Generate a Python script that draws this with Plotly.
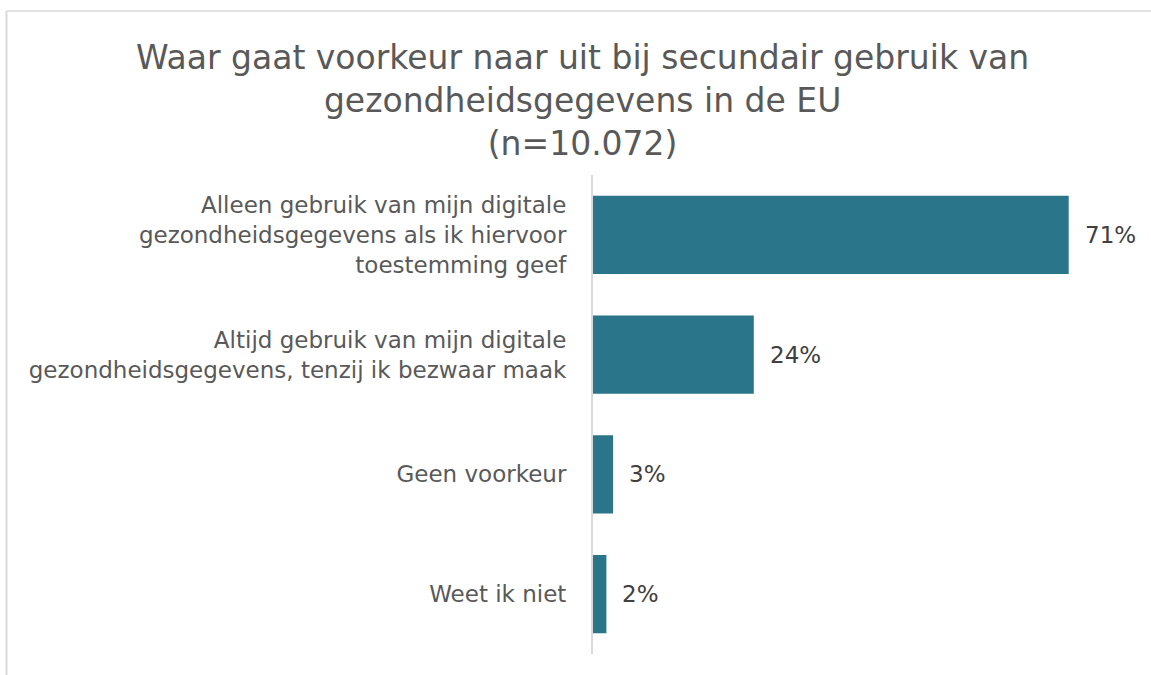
import plotly.graph_objects as go

categories = [
    "Alleen gebruik van mijn digitale<br>gezondheidsgegevens als ik hiervoor<br>toestemming geef",
    "Altijd gebruik van mijn digitale<br>gezondheidsgegevens, tenzij ik bezwaar maak",
    "Geen voorkeur",
    "Weet ik niet",
]
values = [71, 24, 3, 2]
value_labels = ["71%", "24%", "3%", "2%"]

title_text = ("Waar gaat voorkeur naar uit bij secundair gebruik van<br>"
              "gezondheidsgegevens in de EU<br>(n=10.072)")

W, H = 1151, 675
ML, MR, MT, MB = 593, 22, 175, 21
PW = W - ML - MR
PH = H - MT - MB

FONT = "DejaVu Sans"
BAR = "#2A7589"

fig = go.Figure()
fig.add_trace(go.Bar(
    x=values, y=categories, orientation="h",
    marker=dict(color=BAR, line=dict(width=0)),
    hoverinfo="skip",
))

for v, c, t in zip(values, categories, value_labels):
    fig.add_annotation(x=v, y=c, text=t, xref="x", yref="y",
                       xanchor="left", yanchor="middle", xshift=14, showarrow=False,
                       font=dict(family=FONT, size=23, color="#404040"))

fig.add_annotation(text=title_text, xref="paper", yref="paper",
                   x=(582 - ML) / PW, y=1 + (MT - 36) / PH,
                   xanchor="center", yanchor="top", showarrow=False,
                   font=dict(family=FONT, size=33, color="#595959"))

# chart border (left and top edges visible)
bx = (6.5 - ML) / PW
by = 1 + (MT - 11) / PH
fig.add_shape(type="line", xref="paper", yref="paper", x0=bx, x1=bx, y0=-0.2, y1=by,
              line=dict(color="#D9D9D9", width=2))
fig.add_shape(type="line", xref="paper", yref="paper", x0=bx, x1=1.2, y0=by, y1=by,
              line=dict(color="#D9D9D9", width=1.5))

fig.update_layout(
    width=W, height=H,
    margin=dict(l=ML, r=MR, t=MT, b=MB),
    paper_bgcolor="white", plot_bgcolor="white",
    bargap=0.345,
    showlegend=False,
    font=dict(family=FONT, color="#595959"),
    xaxis=dict(range=[0, 80], visible=False, showgrid=False, zeroline=False),
    yaxis=dict(autorange="reversed", showline=True, linecolor="#D9D9D9", linewidth=2,
               showgrid=False, zeroline=False, ticks="", ticklabelstandoff=20,
               tickfont=dict(family=FONT, size=23, color="#595959")),
)

fig.write_html("out.html")
